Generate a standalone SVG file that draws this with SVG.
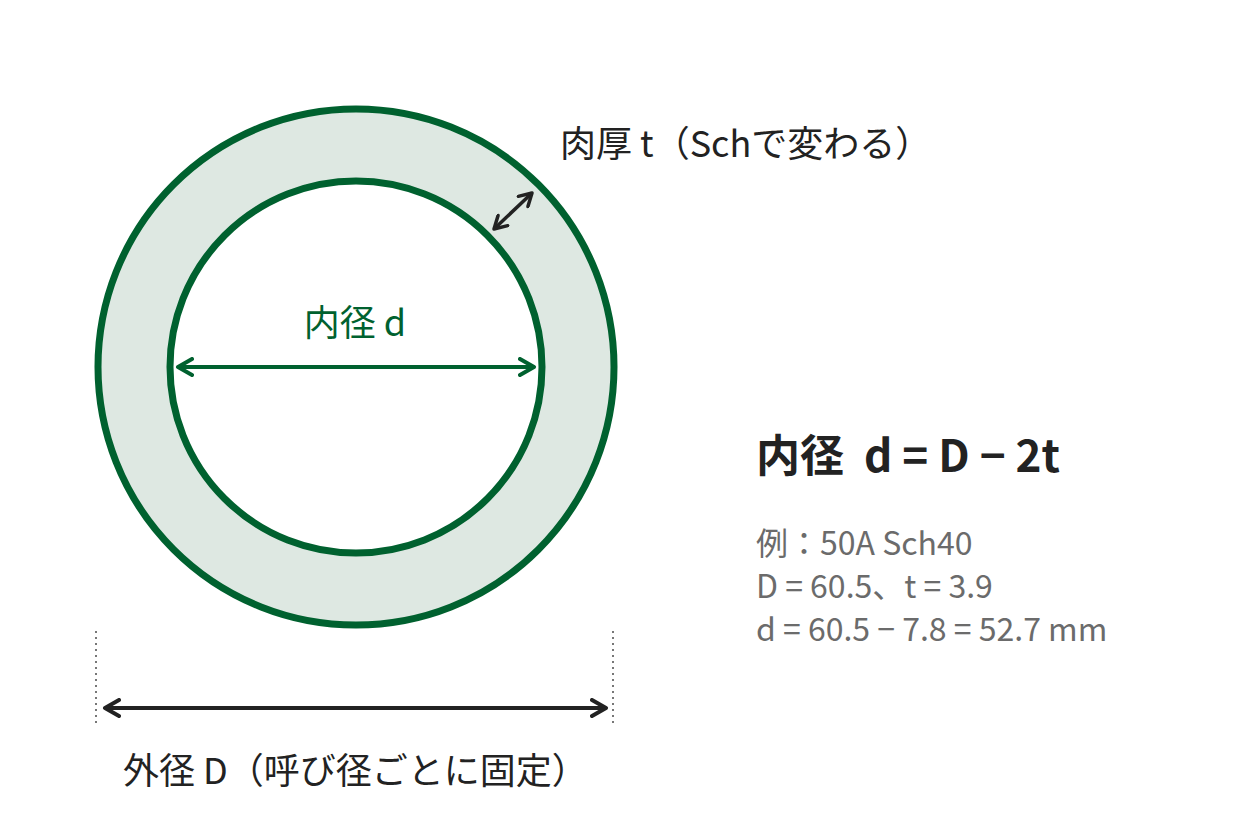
<svg xmlns="http://www.w3.org/2000/svg" width="1254" height="840" viewBox="0 0 1254 840">
<defs>
<style>
.t{font-family:"Noto Sans CJK JP","Noto Sans",sans-serif}
.dark{fill:#222222}
.green{fill:#00612f}
.gray{fill:#6b6b6b}
</style>
<marker id="ag" viewBox="0 0 10 10" refX="8" refY="5" markerWidth="5" markerHeight="5" orient="auto-start-reverse" markerUnits="strokeWidth"><path d="M1,1 L8,5 L1,9" fill="none" stroke="#00612f" stroke-width="2" stroke-linecap="round" stroke-linejoin="round"/></marker>
<marker id="ak" viewBox="0 0 10 10" refX="8" refY="5" markerWidth="5" markerHeight="5" orient="auto-start-reverse" markerUnits="strokeWidth"><path d="M1,1 L8,5 L1,9" fill="none" stroke="#222222" stroke-width="2" stroke-linecap="round" stroke-linejoin="round"/></marker>
</defs>
<rect width="1254" height="840" fill="#ffffff"/>
<g id="pipe">
<circle cx="356" cy="367" r="258" fill="#dee8e2" stroke="#00612f" stroke-width="7"/>
<circle cx="356" cy="367" r="186" fill="#ffffff" stroke="#00612f" stroke-width="7"/>
</g>
<g id="connectors" fill="none">
<line x1="178" y1="367" x2="534" y2="367" stroke="#00612f" stroke-width="4" marker-start="url(#ag)" marker-end="url(#ag)"/>
<line x1="494" y1="229" x2="532" y2="193" stroke="#222222" stroke-width="3.5" marker-start="url(#ak)" marker-end="url(#ak)"/>
<line x1="105" y1="708" x2="606" y2="708" stroke="#222222" stroke-width="4" marker-start="url(#ak)" marker-end="url(#ak)"/>
<line x1="96" y1="631" x2="96" y2="727" stroke="#777777" stroke-width="2" stroke-dasharray="2 4"/>
<line x1="613" y1="631" x2="613" y2="727" stroke="#777777" stroke-width="2" stroke-dasharray="2 4"/>
</g>
<g id="label-inner"><text class="t green" x="355" y="336" font-size="36" text-anchor="middle">内径 d</text></g>
<g id="label-thickness"><text class="t dark" x="560" y="157" font-size="36">肉厚 t（Schで変わる）</text></g>
<g id="label-outer"><text class="t dark" x="123" y="784" font-size="36">外径 D（呼び径ごとに固定）</text></g>
<g id="formula"><text class="t dark" x="756" y="472" font-size="44" font-weight="bold" xml:space="preserve">内径  d = D − 2t</text></g>
<g id="example" class="t gray" font-size="32">
<text x="756" y="555">例：50A Sch40</text>
<text x="756" y="598">D = 60.5、t = 3.9</text>
<text x="756" y="641">d = 60.5 − 7.8 = 52.7 mm</text>
</g>
</svg>
